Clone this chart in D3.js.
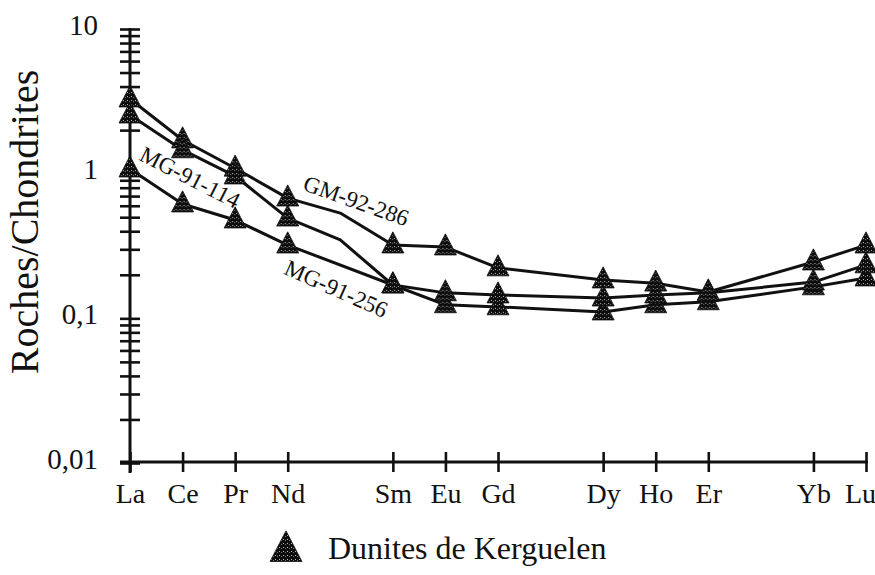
<!DOCTYPE html>
<html>
<head>
<meta charset="utf-8">
<script src="https://cdn.jsdelivr.net/npm/d3@7"></script>
<style>
  html, body { margin: 0; padding: 0; background: #fff; }
  svg { display: block; }
</style>
</head>
<body>
<svg id="chart" width="875" height="575"></svg>
<script>
// Rare earth elements, ordered by atomic number
const elements = ["La", "Ce", "Pr", "Nd", "Sm", "Eu", "Gd", "Dy", "Ho", "Er", "Yb", "Lu"];
const atomicNumbers = [57, 58, 59, 60, 62, 63, 64, 66, 67, 68, 70, 71];

// Chondrite-normalised abundances
const seriesNames = ["GM-92-286", "MG-91-256", "MG-91-114"];
const gm92286 = [3.28, 1.71, 1.09, 0.678, 0.321, 0.311, 0.223, 0.184, 0.175, 0.152, 0.245, 0.321];
const mg91256 = [2.54, 1.46, 0.963, 0.493, 0.170, 0.124, 0.120, 0.1105, 0.124, 0.130, 0.165, 0.190];
const mg91114 = [1.076, 0.617, 0.478, 0.321, 0.170, 0.150, 0.145, 0.138, 0.145, 0.150, 0.178, 0.234];
// Pm (Z = 61): point on the profile, not measured (no marker)
const pmAtomic = 61;
const pmValues = [0.534, 0.348, null];

// Y axis
const yTickValues = [0.01, 0.1, 1, 10];
const yTickLabels = ["0,01", "0,1", "1", "10"];
const yTitle = "Roches/Chondrites";
const legendLabel = "Dunites de Kerguelen";

const FONT = "'Liberation Serif', 'Times New Roman', Times, 'DejaVu Serif', serif";
const INK = "#111";

const svg = d3.select("#chart");

const x = d3.scaleLinear().domain([57, 71]).range([130, 866]);
const y = d3.scaleLog().domain([0.01, 10]).range([463, 29]);

// stippled black fill of the triangles
const defs = svg.append("defs");
const pat = defs.append("pattern")
  .attr("id", "stipple").attr("patternUnits", "userSpaceOnUse")
  .attr("width", 4).attr("height", 4);
pat.append("rect").attr("width", 4).attr("height", 4).attr("fill", "#0d0d0d");
pat.append("rect").attr("x", 1).attr("y", 1).attr("width", 1).attr("height", 1).attr("fill", "#bbb");
pat.append("rect").attr("x", 3).attr("y", 2).attr("width", 1).attr("height", 1).attr("fill", "#777");

// Y axis: log ticks crossing the axis line
const minorTicks = [];
for (let e = -2; e < 1; e++) {
  for (let m = 1; m <= 9; m++) minorTicks.push(m * Math.pow(10, e));
}
minorTicks.push(10);

const yAxisG = svg.append("g").attr("transform", "translate(130,0)")
  .call(d3.axisLeft(y).tickValues(minorTicks).tickSize(10).tickFormat(() => ""));
yAxisG.select(".domain").remove();
yAxisG.selectAll(".tick line")
  .attr("x1", -10).attr("x2", 10)
  .attr("stroke", INK).attr("stroke-width", 2.6);

svg.append("line")
  .attr("x1", x(57)).attr("x2", x(57))
  .attr("y1", y(10) - 1).attr("y2", y(0.01) + 10)
  .attr("stroke", INK).attr("stroke-width", 3);

const yLabels = svg.append("g").attr("transform", "translate(130,0)")
  .call(d3.axisLeft(y).tickValues(yTickValues).tickSize(0)
    .tickFormat((d, i) => yTickLabels[i]));
yLabels.select(".domain").remove();
yLabels.selectAll(".tick text")
  .attr("x", -32).attr("dy", null).attr("y", 5)
  .attr("text-anchor", "end")
  .style("font-family", FONT)
  .style("font-size", "29px").attr("fill", INK);

// X axis
svg.append("line")
  .attr("x1", x(57) - 10).attr("x2", x(71) + 2)
  .attr("y1", y(0.01) - 1).attr("y2", y(0.01) - 1)
  .attr("stroke", INK).attr("stroke-width", 3);

const xAxisG = svg.append("g").attr("transform", `translate(0,${y(0.01) - 1})`)
  .call(d3.axisBottom(x).tickValues(atomicNumbers).tickSize(10)
    .tickFormat((d, i) => elements[i]));
xAxisG.select(".domain").remove();
xAxisG.selectAll(".tick line")
  .attr("y1", -10).attr("y2", 10)
  .attr("stroke", INK).attr("stroke-width", 2.6);
xAxisG.selectAll(".tick text")
  .attr("dy", null).attr("y", 41)
  .attr("x", (d, i) => i === elements.length - 1 ? -6 : 0)
  .style("font-family", FONT)
  .style("font-size", "28px").attr("fill", INK);

// Y title
svg.append("text")
  .attr("transform", "translate(38,222) rotate(-90)")
  .attr("text-anchor", "middle")
  .style("font-family", FONT)
  .style("font-size", "40px")
  .attr("fill", INK)
  .text(yTitle);

// Profiles
const seriesValues = [gm92286, mg91256, mg91114];
const line = d3.line().x(d => x(d.z)).y(d => y(d.v)).curve(d3.curveLinear);

const triangle = {
  draw(context, size) {
    const w = Math.sqrt(size) * 0.55, up = w * 1.2, down = w * 0.72;
    context.moveTo(0, -up);
    context.lineTo(w, down);
    context.lineTo(-w, down);
    context.closePath();
  }
};
const marker = d3.symbol().type(triangle).size(400);

seriesValues.forEach((vals, si) => {
  const pts = vals.map((v, i) => ({ z: atomicNumbers[i], v }));
  if (pmValues[si] != null) pts.push({ z: pmAtomic, v: pmValues[si] });
  pts.sort((a, b) => a.z - b.z);
  svg.append("path").datum(pts)
    .attr("d", line)
    .attr("fill", "none").attr("stroke", INK)
    .attr("stroke-width", 3).attr("stroke-linejoin", "round");
});

seriesValues.forEach(vals => {
  svg.append("g").selectAll("path")
    .data(vals.map((v, i) => ({ z: atomicNumbers[i], v })))
    .join("path")
    .attr("transform", d => `translate(${x(d.z)},${y(d.v)})`)
    .attr("d", marker)
    .attr("fill", "url(#stipple)")
    .attr("stroke", INK).attr("stroke-width", 0.8);
});

// Sample labels along the profiles
const seriesLabels = [
  { name: seriesNames[0], z: 61.3, v: 0.647, angle: 19.5 },
  { name: seriesNames[1], z: 60.92, v: 0.1595, angle: 24 },
  { name: seriesNames[2], z: 58.14, v: 0.94, angle: 27 }
];
svg.append("g").selectAll("text")
  .data(seriesLabels)
  .join("text")
  .attr("transform", d => `translate(${x(d.z)},${y(d.v)}) rotate(${d.angle})`)
  .attr("text-anchor", "middle")
  .attr("dominant-baseline", "central")
  .style("font-family", FONT)
  .style("font-size", "23px")
  .attr("fill", INK)
  .text(d => d.name);

// Legend
const legend = svg.append("g").attr("transform", "translate(286,550)");
legend.append("path")
  .attr("d", d3.symbol().type(triangle).size(840))
  .attr("fill", "url(#stipple)")
  .attr("stroke", INK).attr("stroke-width", 0.8);
legend.append("text")
  .attr("x", 42).attr("y", 9)
  .style("font-family", FONT)
  .style("font-size", "32px")
  .attr("fill", INK)
  .text(legendLabel);
</script>
</body>
</html>
